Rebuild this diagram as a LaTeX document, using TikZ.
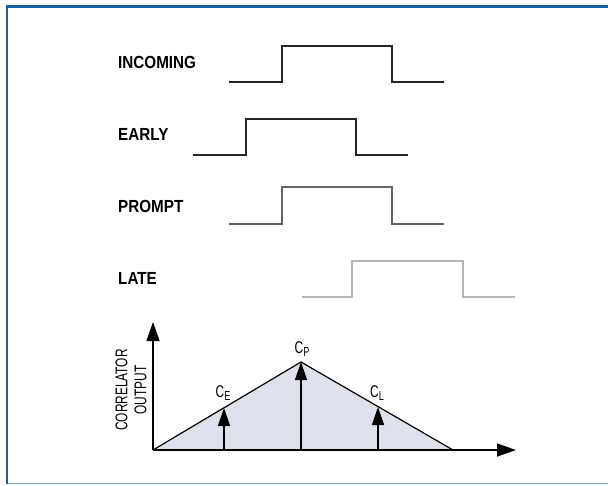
\documentclass[tikz,border=0pt]{standalone}
\usepackage{fontspec}
\newfontfamily\condfont{Liberation Sans}[FakeStretch=0.87]
\newfontfamily\narrowfont{Liberation Sans}[FakeStretch=0.7]
\usetikzlibrary{arrows.meta}
\definecolor{framedark}{RGB}{22,96,166}
\definecolor{framelight}{RGB}{125,172,216}
\definecolor{corrfill}{RGB}{221,225,236}
\definecolor{promptgray}{RGB}{100,100,100}
\definecolor{lategray}{RGB}{182,182,182}
\tikzset{
  sig/.style={font=\condfont\bfseries\fontsize{17.5}{20}\selectfont, anchor=west, inner sep=0pt},
  wave/.style={line width=1.8pt, line join=miter},
  tap/.style={font=\narrowfont\fontsize{17}{19}\selectfont, inner sep=1pt},
  spike/.style={line width=1.3pt, -{Triangle[length=18pt,width=12pt]}},
}
\newcommand{\sub}[1]{{\fontsize{13}{13}\selectfont\raisebox{-0.4ex}{#1}}}

\begin{document}
\begin{tikzpicture}[x=1pt,y=1pt,yscale=-1,xscale=1]
\useasboundingbox (0,0) rectangle (608,485);

%Frame
\fill[white] (0,0) rectangle (608,485);
\draw[framelight, line width=1pt] (6,483.5) -- (608,483.5);
\draw[framedark, line width=2.2pt] (7,484) -- (7,6.5) -- (608,6.5);

%Signal names
\node[sig] (incoming) at (118,62) {INCOMING};
\node[sig] (early) at (118,134) {EARLY};
\node[sig] (prompt) at (118,206) {PROMPT};
\node[sig] (late) at (118,278) {LATE};

%Pulses
\draw[wave, black!85] (229,82) -- (282,82) -- (282,46) -- (392,46) -- (392,82) -- (444,82);
\draw[wave, black!85] (193,155) -- (246,155) -- (246,119) -- (356,119) -- (356,155) -- (408,155);
\draw[wave, promptgray] (229,224) -- (282,224) -- (282,187) -- (392,187) -- (392,224) -- (444,224);
\draw[wave, lategray] (302,297) -- (352,297) -- (352,261) -- (463,261) -- (463,297) -- (515,297);

%Correlator output
\coordinate (o) at (153,450);
\coordinate (ytip) at (153,322);
\coordinate (xtip) at (516,450);
\coordinate (peak) at (301,362);
\coordinate (tend) at (453,450);
\coordinate (ebase) at (224,450);
\coordinate (etop) at (224,408);
\coordinate (pbase) at (301,450);
\coordinate (lbase) at (378,450);
\coordinate (ltop) at (378,407);

\fill[corrfill] (o) -- (peak) -- (tend) -- cycle;
\draw[line width=1.2pt] (o) -- (peak) -- (tend);
\draw[line width=1.3pt, -{Triangle[length=19pt,width=13pt]}] (o) -- (ytip);
\draw[line width=1.3pt, -{Triangle[length=19pt,width=13pt]}] (o) -- (xtip);

\draw[spike] (ebase) -- (etop);
\draw[spike] (pbase) -- (peak);
\draw[spike] (lbase) -- (ltop);

\node[tap] (ce) at (223,393) {C\sub{E}};
\node[tap] (cp) at (302,349) {C\sub{P}};
\node[tap] (cl) at (377,393) {C\sub{L}};

\node[tap, rotate=90, align=center] (corr) at (131,390) {CORRELATOR\\OUTPUT};

\end{tikzpicture}
\end{document}
